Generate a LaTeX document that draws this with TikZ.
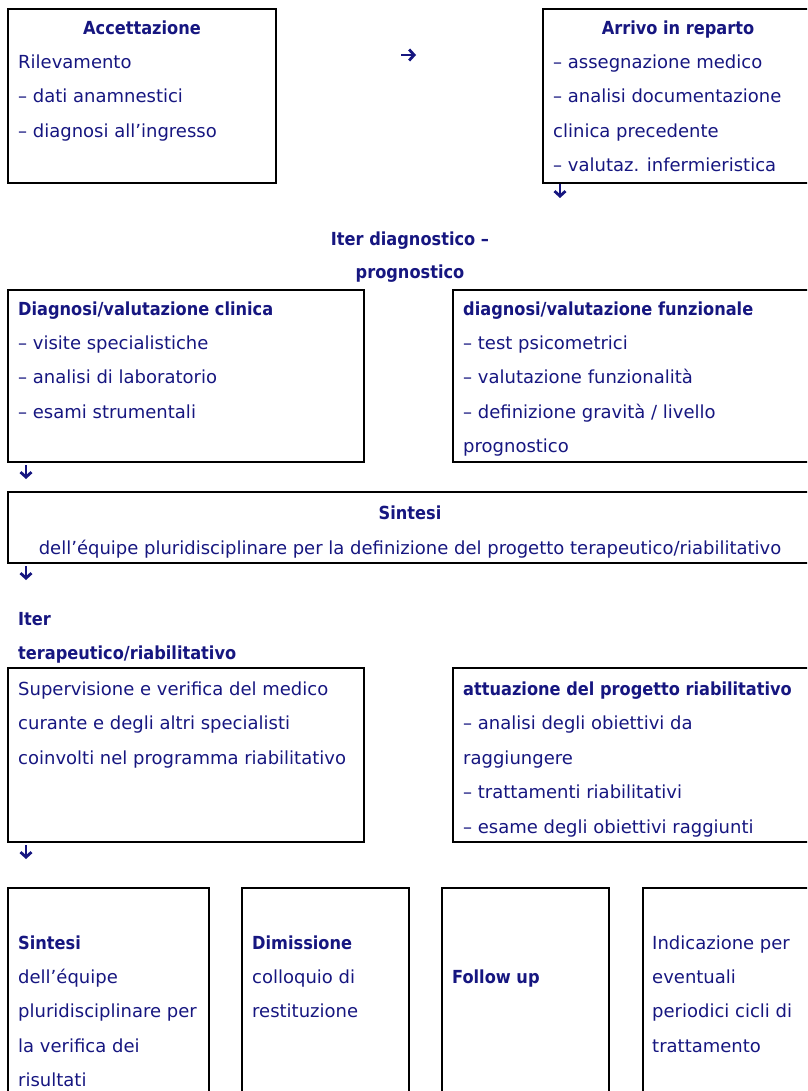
\documentclass[tikz,border=0pt]{standalone}
\usepackage{fontspec}
\usetikzlibrary{arrows.meta}
\setmainfont{DejaVu Sans}[BoldFont={DejaVu Sans Condensed Bold}]
\definecolor{navy}{RGB}{22,22,128}
\begin{document}
\begin{tikzpicture}[x=1pt,y=-1pt,
  box/.style={draw=black,line width=2pt,anchor=north west,outer sep=0pt,inner sep=0pt},
  txt/.style={anchor=base west,inner sep=0pt,text=navy,font=\fontsize{18}{20}\selectfont},
  ttl/.style={txt,font=\fontsize{18}{20}\selectfont\bfseries},
  ctxt/.style={txt,anchor=base},
  cttl/.style={ttl,anchor=base},
  glyph/.style={draw=navy,line width=2.6pt,-{Straight Barb[length=5pt,width=11pt,line width=2.8pt]}}]
\useasboundingbox (0,0) rectangle (807,1091);
\clip (0,0) rectangle (807,1091);
% boxes
\node[box,minimum width=268pt,minimum height=174pt] (acc) at (8,9) {};
\node[box,minimum width=280pt,minimum height=174pt] (arr) at (543,9) {};
\node[box,minimum width=356pt,minimum height=172pt] (clin) at (8,290) {};
\node[box,minimum width=370pt,minimum height=172pt] (funz) at (453,290) {};
\node[box,minimum width=820pt,minimum height=71pt] (sint) at (8,492) {};
\node[box,minimum width=356pt,minimum height=174pt] (sup) at (8,668) {};
\node[box,minimum width=370pt,minimum height=174pt] (att) at (453,668) {};
\node[box,minimum width=201pt,minimum height=230pt] (b1) at (8,888) {};
\node[box,minimum width=167pt,minimum height=230pt] (b2) at (242,888) {};
\node[box,minimum width=167pt,minimum height=230pt] (b3) at (442,888) {};
\node[box,minimum width=190pt,minimum height=230pt] (b4) at (643,888) {};
% arrow glyphs
\coordinate (a1s) at (401,55); \coordinate (a1e) at (416,55);
\coordinate (a2s) at (560,184); \coordinate (a2e) at (560,198);
\coordinate (a3s) at (26,465); \coordinate (a3e) at (26,479);
\coordinate (a4s) at (26,566); \coordinate (a4e) at (26,580);
\coordinate (a5s) at (26,845); \coordinate (a5e) at (26,859);
\draw[glyph] (a1s) -- (a1e);
\draw[glyph] (a2s) -- (a2e);
\draw[glyph] (a3s) -- (a3e);
\draw[glyph] (a4s) -- (a4e);
\draw[glyph] (a5s) -- (a5e);
% box 1
\node[cttl] (t11) at (142,35) {Accettazione};
\node[txt] (t12) at (18,69) {Rilevamento};
\node[txt] (t13) at (18,103) {– dati anamnestici};
\node[txt] (t14) at (18,138) {– diagnosi all’ingresso};
% box 2
\node[cttl] (t21) at (678,35) {Arrivo in reparto};
\node[txt] (t22) at (553,69) {– assegnazione medico};
\node[txt] (t23) at (553,103) {– analisi documentazione};
\node[txt] (t24) at (553,138) {clinica precedente};
\node[txt] (t25) at (553,172) {– valutaz. infermieristica};
% iter diagnostico
\node[cttl] (i1) at (410,246) {Iter diagnostico –};
\node[cttl] (i2) at (410,278) {prognostico};
% box 3
\node[ttl] (t31) at (18,315) {Diagnosi/valutazione clinica};
\node[txt] (t32) at (18,349) {– visite specialistiche};
\node[txt] (t33) at (18,383) {– analisi di laboratorio};
\node[txt] (t34) at (18,418) {– esami strumentali};
% box 4
\node[ttl] (t41) at (463,315) {diagnosi/valutazione funzionale};
\node[txt] (t42) at (463,349) {– test psicometrici};
\node[txt] (t43) at (463,383) {– valutazione funzionalità};
\node[txt] (t44) at (463,418) {– definizione gravità / livello};
\node[txt] (t45) at (463,452) {prognostico};
% sintesi
\node[cttl] (t51) at (410,519) {Sintesi};
\node[ctxt] (t52) at (410,554) {dell’équipe pluridisciplinare per la definizione del progetto terapeutico/riabilitativo};
% iter terapeutico
\node[ttl] (i3) at (18,625) {Iter};
\node[ttl] (i4) at (18,659) {terapeutico/riabilitativo};
% box 6
\node[txt] (t61) at (18,695) {Supervisione e verifica del medico};
\node[txt] (t62) at (18,729) {curante e degli altri specialisti};
\node[txt] (t63) at (18,764) {coinvolti nel programma riabilitativo};
% box 7
\node[ttl] (t71) at (463,695) {attuazione del progetto riabilitativo};
\node[txt] (t72) at (463,729) {– analisi degli obiettivi da};
\node[txt] (t73) at (463,764) {raggiungere};
\node[txt] (t74) at (463,798) {– trattamenti riabilitativi};
\node[txt] (t75) at (463,833) {– esame degli obiettivi raggiunti};
% bottom boxes
\node[ttl] (b11) at (18,949) {Sintesi};
\node[txt] (b12) at (18,983) {dell’équipe};
\node[txt] (b13) at (18,1017) {pluridisciplinare per};
\node[txt] (b14) at (18,1052) {la verifica dei};
\node[txt] (b15) at (18,1086) {risultati};
\node[ttl] (b21) at (252,949) {Dimissione};
\node[txt] (b22) at (252,983) {colloquio di};
\node[txt] (b23) at (252,1017) {restituzione};
\node[ttl] (b31) at (452,983) {Follow up};
\node[txt] (b41) at (652,949) {Indicazione per};
\node[txt] (b42) at (652,983) {eventuali};
\node[txt] (b43) at (652,1017) {periodici cicli di};
\node[txt] (b44) at (652,1052) {trattamento};
\end{tikzpicture}
\end{document}
